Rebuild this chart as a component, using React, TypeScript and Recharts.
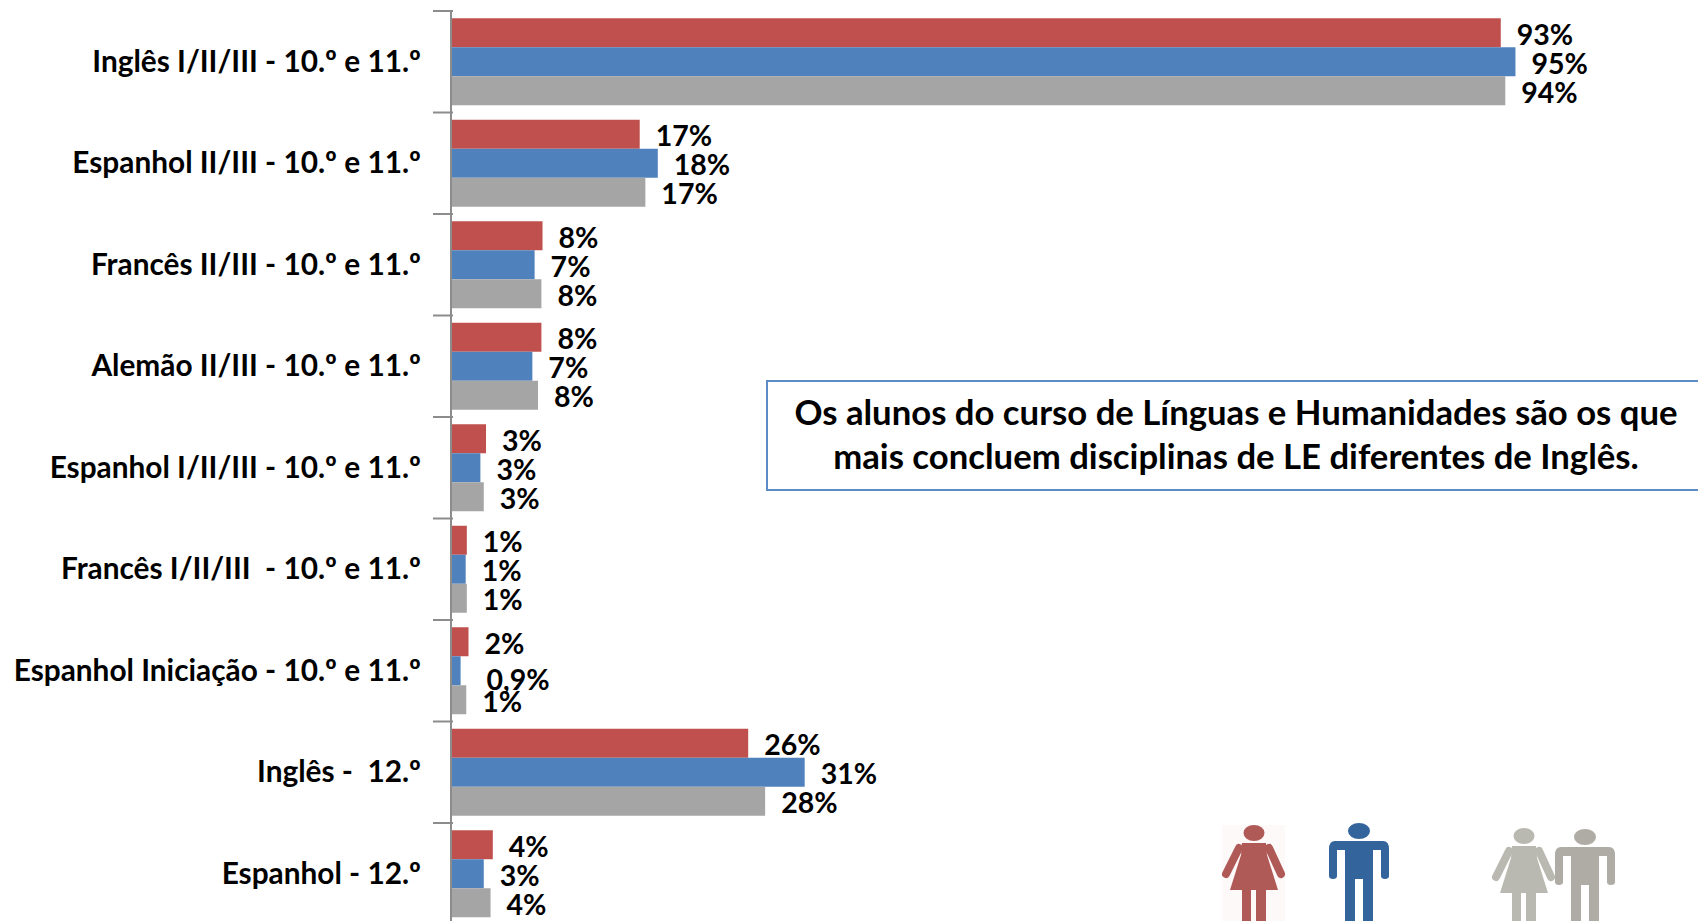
import { Bar, BarChart, LabelList, XAxis, YAxis } from "recharts";

const categories = [
  "Inglês I/II/III - 10.º e 11.º",
  "Espanhol II/III - 10.º e 11.º",
  "Francês II/III - 10.º e 11.º",
  "Alemão II/III - 10.º e 11.º",
  "Espanhol I/II/III - 10.º e 11.º",
  "Francês I/II/III  - 10.º e 11.º",
  "Espanhol Iniciação - 10.º e 11.º",
  "Inglês -  12.º",
  "Espanhol - 12.º",
];

// bar lengths
const feminino = [92.9, 16.7, 8.1, 8.0, 3.1, 1.4, 1.55, 26.3, 3.7];
const masculino = [94.2, 18.3, 7.4, 7.2, 2.6, 1.3, 0.85, 31.3, 2.9];
const total = [93.3, 17.2, 8.0, 7.7, 2.9, 1.4, 1.35, 27.8, 3.5];

// printed labels
const femininoLabels = ["93%", "17%", "8%", "8%", "3%", "1%", "2%", "26%", "4%"];
const masculinoLabels = ["95%", "18%", "7%", "7%", "3%", "1%", "0,9%", "31%", "3%"];
const totalLabels = ["94%", "17%", "8%", "8%", "3%", "1%", "1%", "28%", "4%"];

const data = categories.map((name, i) => ({
  name,
  feminino: feminino[i],
  masculino: masculino[i],
  total: total[i],
}));

const FONT = "Lato, sans-serif";
const AXIS = "#8c8c8c";
const BAND = 101.5;

function CategoryTick({ x, y, payload, index }: any) {
  return (
    <g>
      <line x1={x - 10} x2={x + 10} y1={y + BAND / 2} y2={y + BAND / 2} stroke={AXIS} strokeWidth={2} />
      {index === 0 && (
        <line x1={x - 10} x2={x + 10} y1={y - BAND / 2} y2={y - BAND / 2} stroke={AXIS} strokeWidth={2} />
      )}
      <text
        x={x - 22}
        y={y + 10}
        textAnchor="end"
        fontFamily={FONT}
        fontWeight={700}
        fontSize={29.8}
        fill="#000"
        style={{ whiteSpace: "pre" }}
      >
        {payload.value}
      </text>
    </g>
  );
}

function barLabel(labels: string[], shift: Record<number, [number, number]> = {}) {
  return (props: any) => {
    const { x, y, width, height, index } = props;
    const [dx, dy] = shift[index] ?? [0, 0];
    return (
      <text
        x={x + width + 16 + dx}
        y={y + height / 2 + 12 + dy}
        fontFamily={FONT}
        fontWeight={700}
        fontSize={28.5}
        fill="#000"
      >
        {labels[index]}
      </text>
    );
  };
}

function Woman({ x, y, color }: { x: number; y: number; color: string }) {
  return (
    <g transform={`translate(${x},${y})`} fill={color}>
      <ellipse cx={32} cy={8} rx={10.5} ry={8} />
      <path d="M20 18 H44 L45 30 L56 65 H44 V100 H34 V65 H29 V100 H20 V65 H8 L19 30 Z" />
      <line x1={17} y1={23} x2={4} y2={49} stroke={color} strokeWidth={8} strokeLinecap="round" />
      <line x1={47} y1={23} x2={59} y2={49} stroke={color} strokeWidth={8} strokeLinecap="round" />
    </g>
  );
}

function Man({ x, y, color }: { x: number; y: number; color: string }) {
  return (
    <g transform={`translate(${x},${y})`} fill={color}>
      <ellipse cx={30} cy={8} rx={11} ry={8} />
      <path d="M6 18 H54 Q60 18 60 26 V53 Q60 56 56 56 Q52 56 52 53 V27 H44 V100 H34 V56 H26 V100 H16 V27 H8 V53 Q8 56 4 56 Q0 56 0 53 V26 Q0 18 6 18 Z" />
    </g>
  );
}

export default function App() {
  return (
    <div style={{ position: "absolute", left: 0, top: 0, width: 1698, height: 921, overflow: "hidden", background: "#fff" }}>
      <BarChart
        width={1698}
        height={925}
        data={data}
        layout="vertical"
        margin={{ top: 11, right: 117, bottom: 0.5, left: 0 }}
        barCategoryGap={7.25}
        barGap={0}
      >
        <XAxis type="number" domain={[0, 100]} hide />
        <YAxis
          type="category"
          dataKey="name"
          width={451}
          interval={0}
          axisLine={{ stroke: AXIS, strokeWidth: 2 }}
          tickLine={false}
          tick={CategoryTick}
        />
        <Bar dataKey="feminino" fill="#c0504d" isAnimationActive={false}>
          <LabelList content={barLabel(femininoLabels)} />
        </Bar>
        <Bar dataKey="masculino" fill="#4f81bd" isAnimationActive={false}>
          <LabelList content={barLabel(masculinoLabels, { 6: [10, 7] })} />
        </Bar>
        <Bar dataKey="total" fill="#a5a5a5" isAnimationActive={false}>
          <LabelList content={barLabel(totalLabels)} />
        </Bar>
      </BarChart>

      <div
        style={{
          position: "absolute",
          left: 766,
          top: 380,
          width: 940,
          height: 111,
          boxSizing: "border-box",
          border: "2px solid #5b8cc6",
          background: "#fff",
          textAlign: "center",
          fontFamily: FONT,
          fontWeight: 700,
          fontSize: 34.7,
          lineHeight: "44px",
          paddingTop: 8,
          color: "#000",
        }}
      >
        Os alunos do curso de Línguas e Humanidades são os que
        <br />
        mais concluem disciplinas de LE diferentes de Inglês.
      </div>

      <svg width={1698} height={921} style={{ position: "absolute", left: 0, top: 0, pointerEvents: "none" }}>
        <rect x={1222} y={825} width={63} height={96} fill="#fdf9f9" />
        <Woman x={1222} y={825} color="#b05a57" />
        <Man x={1329} y={823} color="#33659c" />
        <Woman x={1492} y={828} color="#b9b9b1" />
        <Man x={1555} y={829} color="#aeaca4" />
      </svg>
    </div>
  );
}
